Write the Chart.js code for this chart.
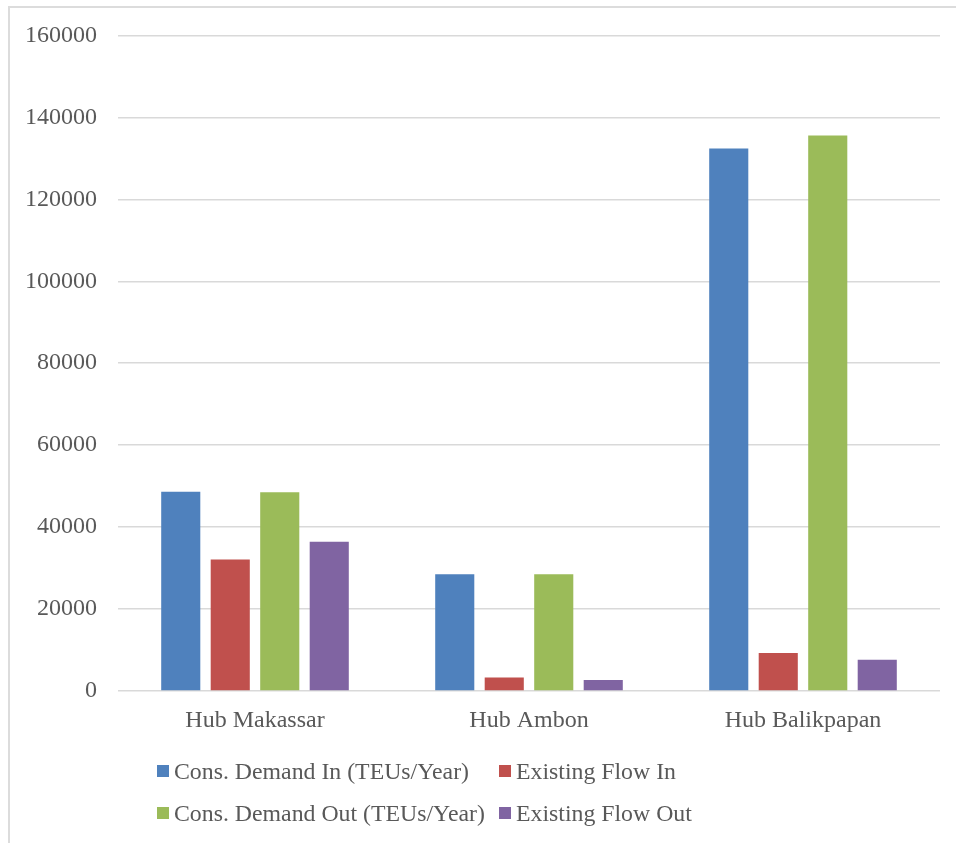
<!DOCTYPE html>
<html>
<head>
<meta charset="utf-8">
<script src="https://cdn.jsdelivr.net/npm/chart.js@4"></script>
<style>
  body { margin: 0; background: #fff; font-family: "Liberation Serif", "Times New Roman", serif; }
  #wrap { position: relative; width: 956px; height: 843px; overflow: hidden; }
  #frame { position: absolute; left: 8px; top: 6px; width: 1000px; height: 900px; border: 2px solid #dcdcdc; box-sizing: border-box; }
  canvas { position: absolute; left: 0; top: 0; }
  #legend { position: absolute; left: 157px; top: 757px; display: grid; grid-template-columns: 342px auto; row-gap: 14px; font-size: 23.8px; color: #595959; }
  #legend div { display: flex; align-items: center; height: 28px; white-space: nowrap; }
  #legend span.box { display: inline-block; width: 12px; height: 12px; margin-right: 5px; }
</style>
</head>
<body>
<div id="wrap">
  <div id="frame"></div>
  <canvas id="myChart" width="956" height="843"></canvas>
  <div id="legend"></div>
</div>
<script>
var hubs = ["Hub Makassar", "Hub Ambon", "Hub Balikpapan"]
var demandIn = [48600, 28500, 132400]
var flowIn = [32100, 3300, 9300]
var demandOut = [48500, 28500, 135600]
var flowOut = [36400, 2700, 7600]
var yTicks = [0, 20000, 40000, 60000, 80000, 100000, 120000, 140000, 160000]

var textColor = "#595959"
var gridColor = "#d9d9d9"

var ctx = document.getElementById("myChart").getContext("2d")
var chart = new Chart(ctx, {
    type: 'bar',
    data: {
        labels: hubs,
        datasets: [
            { label: "Cons. Demand In (TEUs/Year)", data: demandIn, backgroundColor: "#4F81BD" },
            { label: "Existing Flow In", data: flowIn, backgroundColor: "#C0504D" },
            { label: "Cons. Demand Out (TEUs/Year)", data: demandOut, backgroundColor: "#9BBB59" },
            { label: "Existing Flow Out", data: flowOut, backgroundColor: "#8064A2" }
        ]
    },
    options: {
        responsive: false,
        animation: false,
        categoryPercentage: 0.7226,
        barPercentage: 0.79,
        layout: { padding: { top: 35, right: 16, bottom: 0, left: 0 } },
        plugins: {
            legend: { display: false },
            tooltip: { enabled: false }
        },
        scales: {
            x: {
                grid: { display: false },
                border: { display: false },
                ticks: { color: textColor, font: { family: "Liberation Serif", size: 24 }, padding: 7 },
                afterFit: function (scale) { scale.height = 152 }
            },
            y: {
                min: 0,
                max: 160000,
                afterBuildTicks: function (scale) {
                    scale.ticks = yTicks.map(function (v) { return { value: v } })
                },
                grid: { color: gridColor, lineWidth: 1.5, drawTicks: false },
                border: { display: false },
                ticks: {
                    color: textColor,
                    font: { family: "Liberation Serif", size: 24 },
                    padding: 21,
                    callback: function (v) { return String(v) }
                },
                afterFit: function (scale) { scale.width = 118 }
            }
        }
    }
})

// two-column legend under the plot
var legend = document.getElementById("legend")
chart.data.datasets.forEach(function (ds) {
    var item = document.createElement("div")
    var box = document.createElement("span")
    box.className = "box"
    box.style.background = ds.backgroundColor
    item.appendChild(box)
    item.appendChild(document.createTextNode(ds.label))
    legend.appendChild(item)
})
</script>
</body>
</html>
